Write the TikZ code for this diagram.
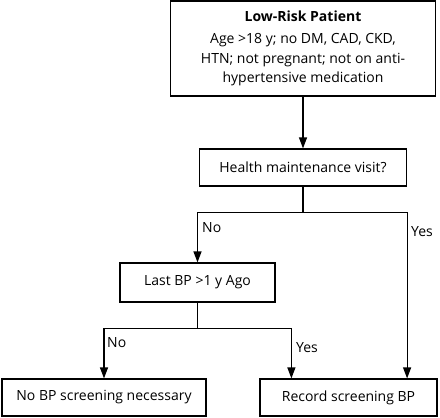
\documentclass[tikz,border=0pt]{standalone}
\usepackage{fontspec}
\setmainfont{Open Sans}
\usetikzlibrary{arrows.meta}

\begin{document}
\begin{tikzpicture}[x=1pt, y=-1pt,
    box/.style={draw, line width=1.2pt, inner sep=0pt, align=center,
        font=\fontsize{14}{19.5}\selectfont},
    flow/.style={line width=1.2pt, -{Triangle[length=11pt,width=8pt]}},
    lbl/.style={anchor=west, inner sep=0pt, font=\fontsize{14}{15}\selectfont}]

\useasboundingbox (0,0) rectangle (440,418);

% Boxes
\node[box, minimum width=265pt, minimum height=95pt] (risk) at (303,48.5)
    {\textbf{Low-Risk Patient}\\[3pt]
     Age >18 y; no DM, CAD, CKD,\\
     HTN; not pregnant; not on anti-\\
     hypertensive medication};
\node[box, minimum width=207pt, minimum height=37pt] (visit) at (303,167.5)
    {Health maintenance visit?};
\node[box, minimum width=155pt, minimum height=39pt] (last) at (197.5,282.5)
    {Last BP >1 y Ago};
\node[box, minimum width=204pt, minimum height=37pt] (nobp) at (104,397.5)
    {No BP screening necessary};
\node[box, minimum width=177pt, minimum height=37pt] (rec) at (348.5,397.5)
    {Record screening BP};

% Connectors
\draw[flow] (risk.south) -- (visit.north);
\draw[flow] (visit.south) -- ++(0,26) -| (last.north);
\draw[flow] (visit.south) ++(0,26) -| (rec.north -| visit.east);
\draw[flow] (last.south) -- ++(0,26) -| (nobp.north);
\draw[flow] (last.south) ++(0,26) -| ([xshift=32pt]rec.north west);

% Branch labels
\node[lbl] (visitno) at (202,228) {No};
\node[lbl] (visityes) at (411,232) {Yes};
\node[lbl] (lastno) at (107,343) {No};
\node[lbl] (lastyes) at (296,348) {Yes};

\end{tikzpicture}
\end{document}
